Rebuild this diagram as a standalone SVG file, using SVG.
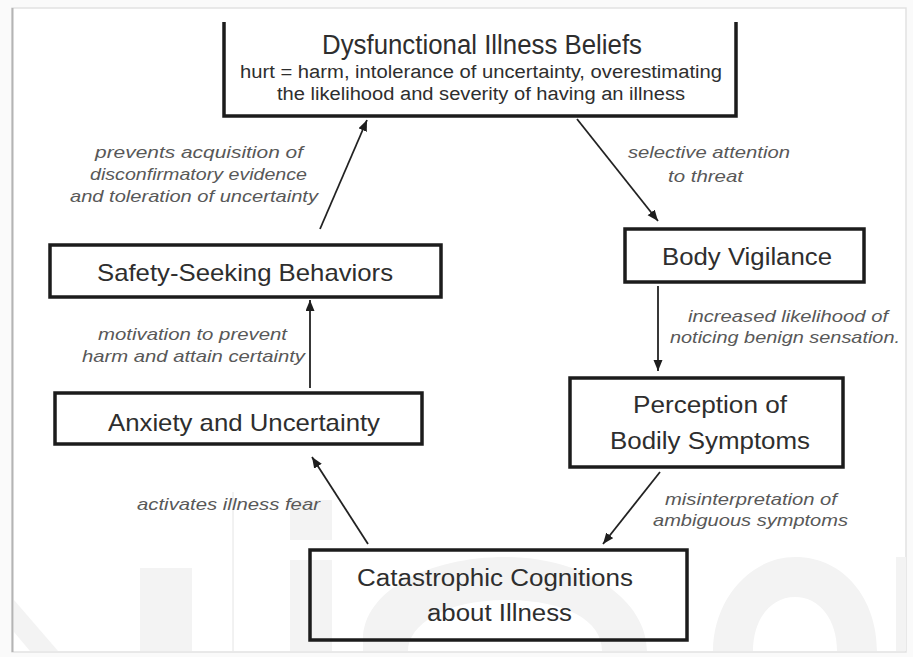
<svg xmlns="http://www.w3.org/2000/svg" width="913" height="657" viewBox="0 0 913 657">
  <defs>
    <marker id="arrow" markerUnits="userSpaceOnUse" markerWidth="12" markerHeight="10" refX="11" refY="4.5" orient="auto">
      <path d="M0,0 L11,4.5 L0,9 z" fill="#1e1e1e"/>
    </marker>
    <style>
      .box { fill: none; stroke: #1c1c1c; stroke-width: 3.5; }
      .node { font-family: "Liberation Sans", Arial, sans-serif; fill: #2e2e2e; }
      .lbl { font-family: "Liberation Sans", Arial, sans-serif; font-style: italic; font-size: 17px; fill: #585858; }
      .edge { stroke: #222; stroke-width: 1.8; fill: none; marker-end: url(#arrow); }
      .wm { fill: #f3f3f3; }
    </style>
  </defs>

  <!-- page background and frame -->
  <rect x="0" y="0" width="913" height="657" fill="#fafafa"/>
  <rect x="12" y="8" width="894" height="644" fill="#ffffff" stroke="#e2e2e2" stroke-width="1.5"/>
  <line x1="12.5" y1="8" x2="12.5" y2="652" stroke="#b4b4b4" stroke-width="2"/>

  <!-- faint background marks -->
  <g id="backdrop">
    <rect class="wm" x="140" y="568" width="52" height="83"/>
    <rect class="wm" x="290" y="500" width="42" height="40"/>
    <rect class="wm" x="290" y="560" width="42" height="91"/>
    <path class="wm" d="M363,651 L363,640 C363,590 430,557 505,557 C585,557 647,600 647,651 L602,651 C602,620 565,600 505,600 C445,600 408,625 408,651 z"/>
    <path class="wm" d="M713,651 C713,600 750,557 795,557 C845,557 877,600 877,651 L837,651 C837,620 820,597 795,597 C770,597 753,620 753,651 z"/>
    <rect class="wm" x="896" y="557" width="10" height="94"/>
    <path class="wm" d="M14,600 L58,651 L30,651 L14,632 z"/>
    <line x1="233" y1="492" x2="233" y2="651" stroke="#e4e4e4" stroke-width="1"/>
  </g>

  <!-- connectors -->
  <g id="connectors">
    <line class="edge" x1="320" y1="229" x2="367" y2="120"/>
    <line class="edge" x1="577" y1="119" x2="658" y2="221"/>
    <line class="edge" x1="658" y1="286" x2="658" y2="371"/>
    <line class="edge" x1="660" y1="472" x2="603" y2="544"/>
    <line class="edge" x1="368" y1="544" x2="312" y2="457"/>
    <line class="edge" x1="310" y1="388" x2="310" y2="300"/>

    <text class="lbl" x="95" y="158" textLength="208" lengthAdjust="spacingAndGlyphs">prevents acquisition of</text>
    <text class="lbl" x="90" y="180" textLength="217" lengthAdjust="spacingAndGlyphs">disconfirmatory evidence</text>
    <text class="lbl" x="70" y="202" textLength="248" lengthAdjust="spacingAndGlyphs">and toleration of uncertainty</text>
    <text class="lbl" x="628" y="158" textLength="162" lengthAdjust="spacingAndGlyphs">selective attention</text>
    <text class="lbl" x="668" y="182" textLength="75" lengthAdjust="spacingAndGlyphs">to threat</text>
    <text class="lbl" x="98" y="340" textLength="189" lengthAdjust="spacingAndGlyphs">motivation to prevent</text>
    <text class="lbl" x="82" y="362" textLength="223" lengthAdjust="spacingAndGlyphs">harm and attain certainty</text>
    <text class="lbl" x="688" y="322" textLength="200" lengthAdjust="spacingAndGlyphs">increased likelihood of</text>
    <text class="lbl" x="670" y="343" textLength="230" lengthAdjust="spacingAndGlyphs">noticing benign sensation.</text>
    <text class="lbl" x="137" y="510" textLength="183" lengthAdjust="spacingAndGlyphs">activates illness fear</text>
    <text class="lbl" x="665" y="505" textLength="172" lengthAdjust="spacingAndGlyphs">misinterpretation of</text>
    <text class="lbl" x="653" y="526" textLength="195" lengthAdjust="spacingAndGlyphs">ambiguous symptoms</text>
  </g>

  <!-- nodes -->
  <g id="beliefs">
    <path class="box" d="M224,22 V116 H736 V22"/>
    <text class="node" x="322" y="54" font-size="27" textLength="320" lengthAdjust="spacingAndGlyphs">Dysfunctional Illness Beliefs</text>
    <text class="node" x="240" y="78" font-size="18" textLength="482" lengthAdjust="spacingAndGlyphs">hurt = harm, intolerance of uncertainty, overestimating</text>
    <text class="node" x="277" y="100" font-size="18" textLength="408" lengthAdjust="spacingAndGlyphs">the likelihood and severity of having an illness</text>
  </g>

  <g id="safety">
    <rect class="box" x="50" y="245" width="391" height="52"/>
    <text class="node" x="97" y="281" font-size="24" textLength="296" lengthAdjust="spacingAndGlyphs">Safety-Seeking Behaviors</text>
  </g>

  <g id="anxiety">
    <rect class="box" x="55" y="393" width="367" height="51"/>
    <text class="node" x="108" y="431" font-size="24" textLength="272" lengthAdjust="spacingAndGlyphs">Anxiety and Uncertainty</text>
  </g>

  <g id="vigilance">
    <rect class="box" x="625" y="229" width="239" height="53"/>
    <text class="node" x="662" y="265" font-size="23" textLength="170" lengthAdjust="spacingAndGlyphs">Body Vigilance</text>
  </g>

  <g id="perception">
    <rect class="box" x="570" y="378" width="273" height="89"/>
    <text class="node" x="633" y="413" font-size="23" textLength="154" lengthAdjust="spacingAndGlyphs">Perception of</text>
    <text class="node" x="610" y="449" font-size="23" textLength="200" lengthAdjust="spacingAndGlyphs">Bodily Symptoms</text>
  </g>

  <g id="catastrophic">
    <rect class="box" x="310" y="550" width="377" height="90"/>
    <text class="node" x="357" y="586" font-size="23" textLength="276" lengthAdjust="spacingAndGlyphs">Catastrophic Cognitions</text>
    <text class="node" x="427" y="621" font-size="23" textLength="145" lengthAdjust="spacingAndGlyphs">about Illness</text>
  </g>
</svg>
